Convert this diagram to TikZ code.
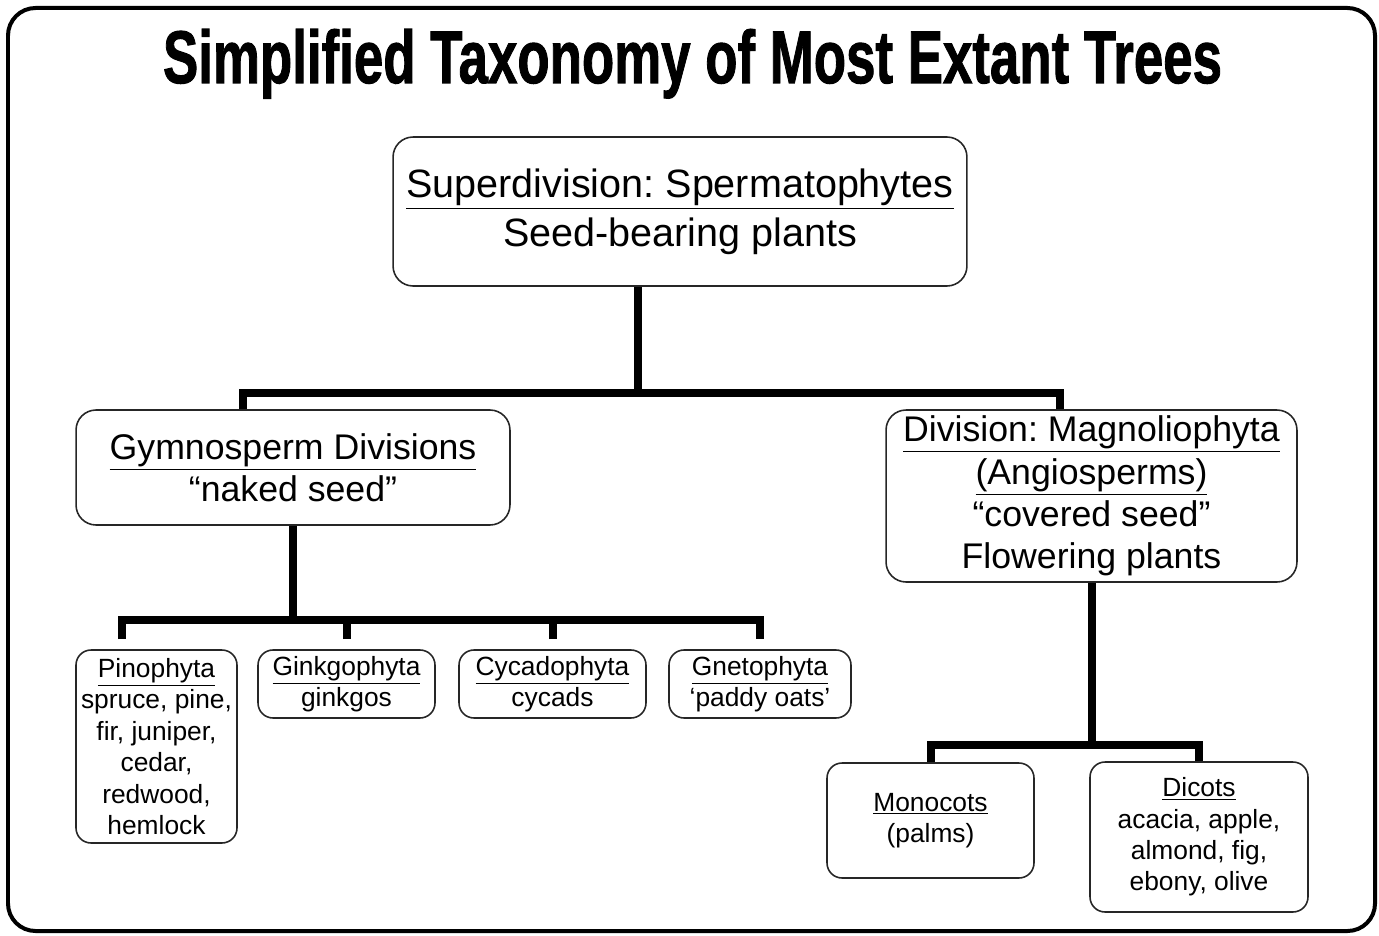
\documentclass[tikz,border=0pt]{standalone}
\usepackage{fontspec}
\setmainfont{Liberation Sans}
\newfontfamily\titlefont[BoldFeatures={FakeBold=1.5}]{Liberation Sans}
\usetikzlibrary{positioning, calc}
\frenchspacing

\begin{document}
\begin{tikzpicture}[
    x=0.02cm, y=-0.02cm,
    box/.style={rectangle, rounded corners=0.4cm, draw=black!85, line width=0.9pt, align=center, inner sep=0pt},
    big/.style={box, font=\fontsize{20.3}{24.1}\selectfont},
    twig/.style={box, rounded corners=0.3cm, font=\fontsize{15}{17.9}\selectfont},
    branch/.style={line width=0.16cm},
]
  \useasboundingbox (0,0) rectangle (1379,936);
  \draw[line width=0.08cm, rounded corners=0.55cm] (8,8) rectangle (1375,931);
  \node[anchor=base, inner sep=0pt] (title) at (692.5,83)
    {\resizebox{21.18cm}{1.08cm}{\titlefont\bfseries Simplified Taxonomy of Most Extant Trees}};

  \node[box, font=\fontsize{22.5}{27.8}\selectfont, minimum width=11.48cm, minimum height=2.98cm] (sperm) at (680,211.5)
    {\underline{Superdivision: Spermatophytes}\\Seed-bearing plants};
  \node[big, minimum width=8.68cm, minimum height=2.3cm] (gymno) at (293,467.5)
    {\underline{Gymnosperm Divisions}\\“naked seed”};
  \node[big, minimum width=8.22cm, minimum height=3.44cm] (magno) at (1091.5,496)
    {\underline{Division: Magnoliophyta}\\\underline{(Angiosperms)}\\“covered seed”\\Flowering plants};

  \node[twig, minimum width=3.22cm, minimum height=3.86cm] (pino) at (156.5,746.5)
    {\underline{Pinophyta}\\spruce, pine,\\fir, juniper,\\cedar,\\redwood,\\hemlock};
  \node[twig, minimum width=3.54cm, minimum height=1.36cm] (gink) at (346.5,684)
    {\underline{Ginkgophyta}\\ginkgos};
  \node[twig, minimum width=3.74cm, minimum height=1.36cm] (cyca) at (552.5,684)
    {\underline{Cycadophyta}\\cycads};
  \node[twig, minimum width=3.64cm, minimum height=1.36cm] (gneto) at (760,684)
    {\underline{Gnetophyta}\\‘paddy oats’};
  \node[twig, minimum width=4.14cm, minimum height=2.3cm] (mono) at (930.5,820.5)
    {\underline{Monocots}\\(palms)};
  \node[twig, minimum width=4.36cm, minimum height=3cm] (dico) at (1199,837)
    {\underline{Dicots}\\acacia, apple,\\almond, fig,\\ebony, olive};

  % main split
  \coordinate (trunk) at (638,393);
  \draw[branch] (sperm.south -| trunk) -- (trunk);
  \draw[branch] ([xshift=-1cm]gymno.north) |- (trunk) -| ([xshift=-0.63cm]magno.north);

  % gymnosperms
  \coordinate (gbus) at (293,620);
  \draw[branch] (gymno.south) -- (gbus);
  \draw[branch] ([shift={(-0.69cm,0.2cm)}]pino.north) |- (gbus) -| ([yshift=0.2cm]gneto.north);
  \foreach \n in {gink, cyca}
    \draw[branch] ([yshift=0.2cm]\n.north) -- (\n.north |- gbus);

  % angiosperms
  \coordinate (abus) at (1091.5,745);
  \draw[branch] (magno.south) -- (abus);
  \draw[branch] (mono.north) |- (abus) -| (dico.north);
\end{tikzpicture}
\end{document}
